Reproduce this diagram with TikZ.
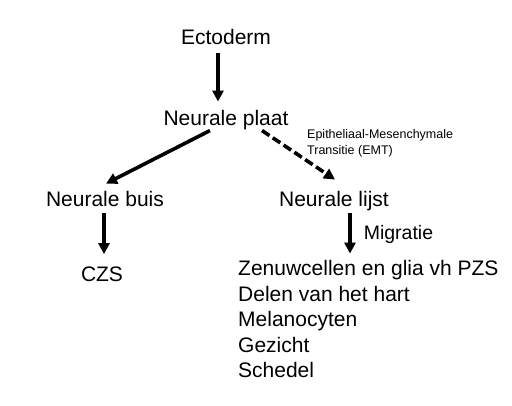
\documentclass[tikz,border=0pt]{standalone}
\usepackage{fontspec}
\setmainfont{Liberation Sans}
\usetikzlibrary{arrows.meta}

\begin{document}
\begin{tikzpicture}[x=1pt, y=1pt, auto]
	\tikzstyle{term}   = [inner sep=0pt, anchor=base, font=\fontsize{21}{25.25}\selectfont]
	\tikzstyle{regel}  = [inner sep=0pt, anchor=base west, font=\fontsize{21}{25.25}\selectfont]
	\tikzstyle{klein}  = [inner sep=0pt, anchor=north west, align=left, font=\fontsize{12.5}{16.5}\selectfont]
	\tikzstyle{pijl}   = [line width=3.6pt, -{Triangle[length=11pt, width=11pt]}]
	\tikzstyle{streep} = [pijl, dash pattern=on 9pt off 4pt]

	\fill[white] (0,0) rectangle (512,405);

	\node[term] (ecto)  at (226, 360) {Ectoderm};
	\node[term] (plaat) at (226, 279) {Neurale plaat};
	\node[term] (buis)  at (105, 198) {Neurale buis};
	\node[term] (lijst) at (334, 198) {Neurale lijst};
	\node[term] (czs)   at (102, 123) {CZS};
	\node[klein] (emt)  at (307, 276) {Epitheliaal-Mesenchymale\\Transitie (EMT)};

	\foreach \naam/\tekst/\y in {zenuw/Zenuwcellen en glia vh PZS/129, hart/Delen van het hart/103, mela/Melanocyten/78, gez/Gezicht/53, sch/Schedel/28}
		\node[regel] (\naam) at (238, \y) {\tekst};

	\coordinate (mig) at ([xshift=16pt]lijst.south);

	\draw[pijl, shorten <=8pt, shorten >=9pt] ([xshift=-8pt]ecto.south) -- ([xshift=-8pt]plaat.north);
	\draw[pijl] ([xshift=-16pt]plaat.south) -- ([xshift=1pt, yshift=8pt]buis.north);
	\draw[streep] ([xshift=36pt]plaat.south) -- ([xshift=1pt, yshift=12pt]lijst.north);
	\draw[pijl, shorten <=6pt, shorten >=13pt] ([xshift=-1pt]buis.south) -- ([xshift=2pt]czs.north);
	\draw[pijl, shorten <=1.5pt, shorten >=7pt] (mig) -- (mig |- zenuw.north)
		node[midway, right, inner sep=0pt, xshift=12pt, yshift=2pt, font=\fontsize{19.5}{23}\selectfont] {Migratie};

\end{tikzpicture}
\end{document}
